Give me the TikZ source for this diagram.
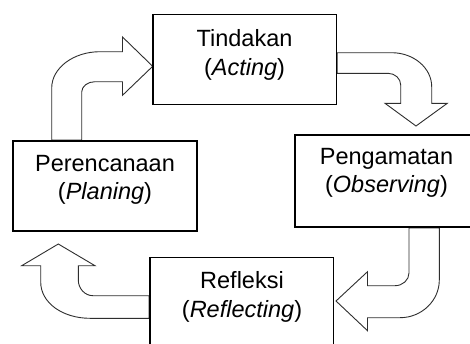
\documentclass[tikz,border=0pt]{standalone}
\usepackage{fontspec}
\setmainfont{Liberation Sans}
\usepackage{xcolor}
\usepackage{tikz}
\usetikzlibrary{backgrounds}
\definecolor{ink}{HTML}{000000}
\definecolor{edge}{HTML}{2E2E2E}
\tikzset{
  stage/.style={draw=ink, fill=white, line width=1.7pt, minimum width=183.5pt, minimum height=90pt, inner sep=0pt},
  bentarrow/.style={draw=edge, fill=white, line width=0.9pt, line join=miter},
  lab/.style={text=ink, align=center, inner sep=0pt, font=\fontsize{23.5}{28.2}\selectfont}
}

\begin{document}
\begin{tikzpicture}[x=1pt, y=-1pt]
  \useasboundingbox (0,0) rectangle (470,343);

  \node[stage] (act) at (244.6,59.4) {};
  \node[stage] (plan) at (105,186) {};
  \node[stage, minimum width=184pt, minimum height=92pt] (obs) at (387,181) {};
  \node[stage] (refl) at (241.7,302.5) {};

  \node[lab] (act-t) at (244.5,54.9) {Tindakan\\(\textit{Acting})};
  \node[lab] (plan-t) at (105,179.9) {Perencanaan\\(\textit{Planing})};
  \node[lab] (obs-t) at (386.5,173) {Pengamatan\\(\textit{Observing})};
  \node[lab] (refl-t) at (242,297) {Refleksi\\(\textit{Reflecting})};

  \begin{scope}[on background layer]
    \draw[bentarrow] (51.7,0 |- plan.north) -- (51.7,88)
      .. controls (51.7,68) and (73.4,51.7) .. (100,51.7) -- (122.5,51.7)
      -- (122.5,37) -- (152.7,66.3) -- (122.5,95.3) -- (122.5,81.7) -- (95,81.7)
      .. controls (87.7,81.7) and (81.7,86.3) .. (81.7,92) -- (81.7,0 |- plan.north) -- cycle;
    \draw[bentarrow] (act.east |- 0,52.7) -- (391.7,52.7)
      .. controls (413.7,52.7) and (431.7,68) .. (431.7,86.7) -- (431.7,103.3)
      -- (447.3,103.3) -- (416,126) -- (385,103.3) -- (400.7,103.3) -- (400.7,85)
      .. controls (400.7,78.6) and (395,73.3) .. (388,73.3) -- (act.east |- 0,73.3) -- cycle;
    \draw[bentarrow] (409,0 |- obs.south) -- (409,273)
      .. controls (409,280) and (402.7,285.7) .. (395,285.7) -- (367.5,285.7)
      -- (367.5,271.7) -- (336,301) -- (367.5,330.7) -- (367.5,317.7) -- (400,317.7)
      .. controls (421.6,317.7) and (439.3,300.7) .. (439.3,280) -- (439.3,0 |- obs.south) -- cycle;
    \draw[bentarrow] (refl.west |- 0,295.7) -- (93,295.7)
      .. controls (84.9,295.7) and (78.3,288.6) .. (78.3,280) -- (78.3,265.7)
      -- (95,265.7) -- (58.3,244) -- (21.7,265.7) -- (40.7,265.7) -- (40.7,282)
      .. controls (40.7,303) and (62.9,318.3) .. (90,318.3) -- (refl.west |- 0,318.3) -- cycle;
  \end{scope}
\end{tikzpicture}
\end{document}
